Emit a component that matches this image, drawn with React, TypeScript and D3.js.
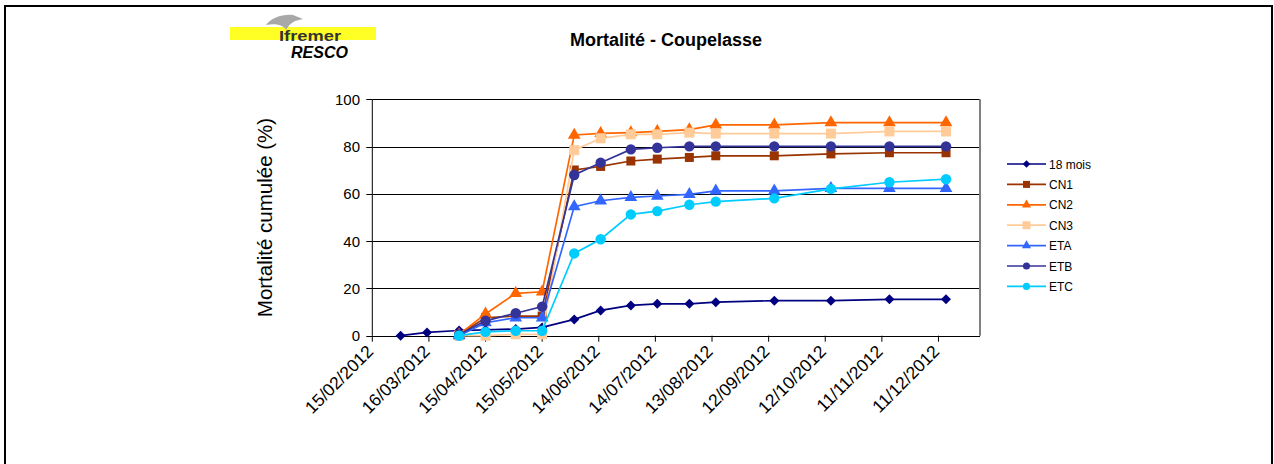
import React from "react";
import * as d3 from "d3";

const W = 1274;
const H = 464;

// dates of the readings
const datesAll = [
  "01/03/2012", "15/03/2012", "01/04/2012", "15/04/2012", "01/05/2012", "15/05/2012",
  "01/06/2012", "15/06/2012", "01/07/2012", "15/07/2012", "01/08/2012", "15/08/2012",
  "15/09/2012", "15/10/2012", "15/11/2012", "15/12/2012",
];
const datesLots = datesAll.slice(2);

const mois18 = [0, 1.4, 2.2, 2.5, 2.8, 3.5, 6.9, 10.7, 12.8, 13.5, 13.5, 14.2, 14.8, 14.8, 15.4, 15.4];
const cn1 = [0.5, 7.6, 8.3, 8.3, 70.1, 71.6, 73.9, 74.7, 75.4, 76.1, 76.1, 76.9, 77.4, 77.4];
const cn2 = [0.5, 9.2, 17.9, 18.6, 84.9, 85.6, 85.9, 86.4, 87.2, 89.2, 89.2, 90.1, 90.1, 90.1];
const cn3 = [0, 0, 0.6, 0.6, 78.5, 83.5, 85.2, 85.2, 85.9, 85.5, 85.5, 85.5, 86.4, 86.4];
const eta = [0, 5.5, 7.6, 7.6, 54.6, 57.1, 58.5, 59.1, 59.8, 61.3, 61.3, 62.3, 62.3, 62.3];
const etb = [0.5, 6.3, 9.5, 12.3, 68.0, 73.2, 78.8, 79.5, 80.1, 80.1, 80.1, 80.1, 80.1, 80.1];
const etc = [0, 1.6, 2.1, 2.1, 34.8, 40.8, 51.3, 52.7, 55.4, 56.7, 58.1, 62.1, 64.9, 66.2];

const xTickLabels = [
  "15/02/2012", "16/03/2012", "15/04/2012", "15/05/2012", "14/06/2012", "14/07/2012",
  "13/08/2012", "12/09/2012", "12/10/2012", "11/11/2012", "11/12/2012",
];
const yTicks = [0, 20, 40, 60, 80, 100];

type Marker = "diamond" | "square" | "triangle" | "circle";
const series: { name: string; dates: string[]; values: number[]; color: string; marker: Marker; size: number; legSize: number }[] = [
  { name: "18 mois", dates: datesAll, values: mois18, color: "#000080", marker: "diamond", size: 50, legSize: 28 },
  { name: "CN1", dates: datesLots, values: cn1, color: "#993300", marker: "square", size: 81, legSize: 49 },
  { name: "CN2", dates: datesLots, values: cn2, color: "#FF6600", marker: "triangle", size: 70, legSize: 36 },
  { name: "CN3", dates: datesLots, values: cn3, color: "#FFCC99", marker: "square", size: 100, legSize: 64 },
  { name: "ETA", dates: datesLots, values: eta, color: "#3366FF", marker: "triangle", size: 70, legSize: 36 },
  { name: "ETB", dates: datesLots, values: etb, color: "#333399", marker: "circle", size: 85, legSize: 40 },
  { name: "ETC", dates: datesLots, values: etc, color: "#00CCFF", marker: "circle", size: 85, legSize: 40 },
];

const parse = d3.timeParse("%d/%m/%Y");
const font = "'Liberation Sans', Arial, sans-serif";

const symbolPath = (m: Marker, size: number) => {
  const t =
    m === "circle" ? d3.symbolCircle : m === "triangle" ? d3.symbolTriangle : d3.symbolSquare;
  return d3.symbol().type(t).size(size)() as string;
};

const App = () => {
  const left = 372.3;
  const right = 980;
  const top = 99.3;
  const bottom = 335.7;

  const x = d3
    .scaleTime()
    .domain([parse("15/02/2012") as Date, parse("02/01/2013") as Date])
    .range([left, right]);
  const y = d3.scaleLinear().domain([0, 100]).range([bottom, top]);

  const line = d3
    .line<[Date, number]>()
    .x((d) => x(d[0]))
    .y((d) => y(d[1]));

  const legX = 1007;
  const legY0 = 164;
  const legStep = 20.4;

  return (
    <svg width={W} height={H} style={{ position: "absolute", left: 0, top: 0 }} fontFamily={font}>
      <rect x={0} y={0} width={W} height={H} fill="#fff" />
      <rect x={5} y={6} width={1267} height={470} fill="none" stroke="#000" strokeWidth={2} />

      {/* logo */}
      <g>
        <rect x={230} y={27} width={146} height={13} fill="#FFFF00" opacity={0.85} />
        <path
          d="M266,25 C271,18 282,14 293,15 L303,19 L295,21 C291,23 288,26 286,30 C284,26 278,23 266,25 Z"
          fill="#a8a8a8"
        />
        <text x={279} y={41} fontSize={15} fontWeight="bold" fill="#333" textLength={62} lengthAdjust="spacingAndGlyphs">
          Ifremer
        </text>
        <text x={291} y={58} fontSize={16} fontWeight="bold" fontStyle="italic" fill="#000">
          RESCO
        </text>
      </g>

      <text x={666} y={46} textAnchor="middle" fontSize={18} fontWeight="bold">
        Mortalité - Coupelasse
      </text>

      {/* grid */}
      {yTicks.slice(1).map((t) => (
        <line key={t} x1={left} x2={right} y1={Math.round(y(t)) + 0.5} y2={Math.round(y(t)) + 0.5} stroke="#000" />
      ))}
      <line x1={right} x2={right} y1={top} y2={bottom} stroke="#808080" strokeWidth={2} />

      {/* y axis */}
      <line x1={left} x2={left} y1={top} y2={bottom} stroke="#000" />
      {yTicks.map((t) => (
        <g key={t}>
          <line x1={left - 6} x2={left} y1={Math.round(y(t)) + 0.5} y2={Math.round(y(t)) + 0.5} stroke="#000" />
          <text x={360} y={y(t) + 5.5} textAnchor="end" fontSize={15}>
            {t}
          </text>
        </g>
      ))}
      <text
        transform={`translate(272,${(top + bottom) / 2}) rotate(-90)`}
        textAnchor="middle"
        fontSize={20.5}
      >
        Mortalité cumulée (%)
      </text>

      {/* x axis */}
      <line x1={left} x2={right} y1={Math.round(bottom) + 0.5} y2={Math.round(bottom) + 0.5} stroke="#000" />
      {xTickLabels.map((s) => {
        const tx = x(parse(s) as Date);
        return (
          <g key={s}>
            <line x1={tx} x2={tx} y1={bottom} y2={bottom + 6} stroke="#000" />
            <text
              transform={`translate(${tx + 2},${bottom + 17}) rotate(-45)`}
              textAnchor="end"
              fontSize={17.5}
            >
              {s}
            </text>
          </g>
        );
      })}

      {/* series */}
      {series.map((s) => {
        const pts: [Date, number][] = s.dates.map((d, i) => [parse(d) as Date, s.values[i]]);
        return (
          <g key={s.name}>
            <path d={line(pts) as string} fill="none" stroke={s.color} strokeWidth={1.7} />
            {pts.map((p, i) => (
              <path
                key={i}
                d={symbolPath(s.marker, s.size)}
                fill={s.color}
                transform={`translate(${x(p[0])},${y(p[1])})${s.marker === "diamond" ? " rotate(45)" : ""}`}
              />
            ))}
          </g>
        );
      })}

      {/* legend */}
      {series.map((s, i) => {
        const ly = legY0 + i * legStep;
        return (
          <g key={s.name}>
            <line x1={legX} x2={legX + 39} y1={ly} y2={ly} stroke={s.color} strokeWidth={1.7} />
            <path
              d={symbolPath(s.marker, s.legSize)}
              fill={s.color}
              transform={`translate(${legX + 19.5},${ly})${s.marker === "diamond" ? " rotate(45)" : ""}`}
            />
            <text x={legX + 42} y={ly + 4.5} fontSize={12}>
              {s.name}
            </text>
          </g>
        );
      })}
    </svg>
  );
};

export default App;
